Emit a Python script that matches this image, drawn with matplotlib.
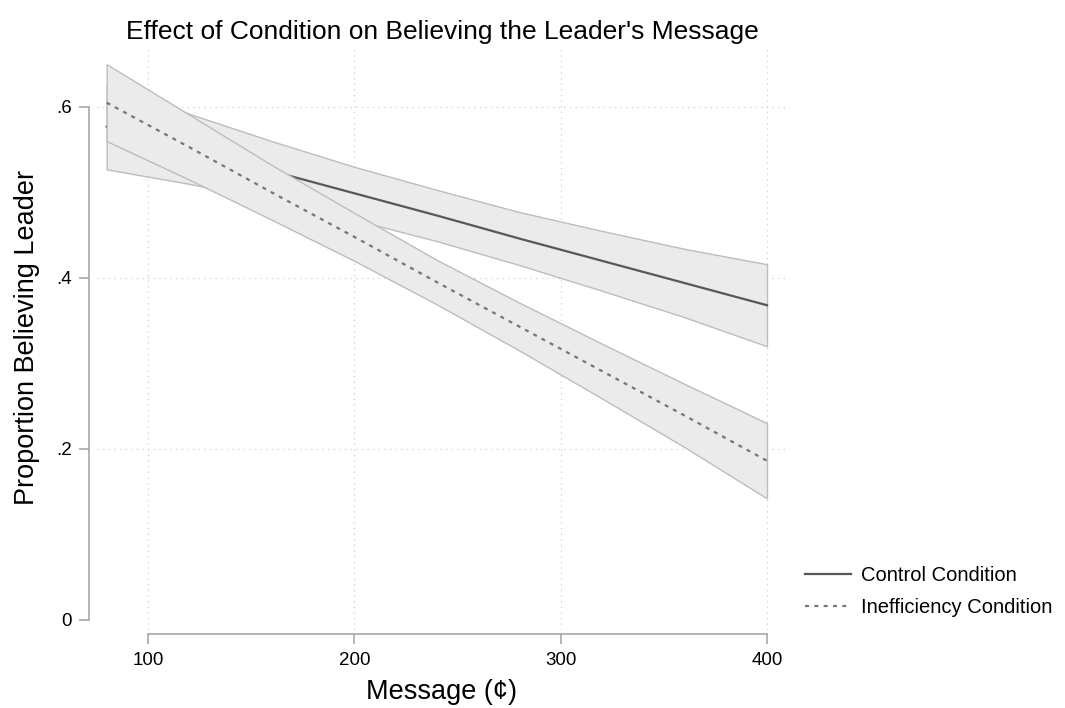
import numpy as np
import matplotlib
matplotlib.use("Agg")
from matplotlib import pyplot as plt

plt.rcParams['font.family'] = ['Liberation Sans', 'DejaVu Sans']

message = [80, 120, 160, 200, 240, 280, 320, 360, 400]
control_fit = [0.577, 0.551, 0.525, 0.499, 0.473, 0.446, 0.420, 0.394, 0.368]
control_lo = [0.527, 0.510, 0.490, 0.468, 0.443, 0.415, 0.385, 0.354, 0.320]
control_hi = [0.627, 0.592, 0.560, 0.530, 0.503, 0.477, 0.455, 0.434, 0.416]
ineff_fit = [0.605, 0.553, 0.500, 0.448, 0.395, 0.343, 0.291, 0.239, 0.186]
ineff_lo = [0.560, 0.515, 0.468, 0.420, 0.369, 0.315, 0.259, 0.202, 0.142]
ineff_hi = [0.650, 0.591, 0.532, 0.476, 0.421, 0.371, 0.323, 0.276, 0.230]

xticks = [100, 200, 300, 400]
yticks = [0, 0.2, 0.4, 0.6]
yticklabels = ['0', '.2', '.4', '.6']

fig = plt.figure(figsize=(10.65, 7.08), dpi=100)
W, H = 1065, 708
left, right, top, bottom = 97, 787, 45, 630
ax = fig.add_axes([left / W, 1 - bottom / H, (right - left) / W, (bottom - top) / H])

band = dict(facecolor='#ebebeb', edgecolor='#bdbdbd', linewidth=1.0)
ax.fill_between(message, control_lo, control_hi, zorder=2, **band)
ax.plot(message, control_fit, color='#585858', lw=1.6, zorder=3, label='Control Condition')
ax.fill_between(message, ineff_lo, ineff_hi, zorder=4, **band)
ax.plot(message, ineff_fit, color='#777777', lw=1.6, ls=(0, (1.8, 2.4)), zorder=5,
        label='Inefficiency Condition')

ax.set_xlim(75.3, 409.7)
ax.set_ylim(-0.012, 0.6725)
ax.set_xticks(xticks)
ax.set_yticks(yticks)
ax.set_yticklabels(yticklabels)

for x in xticks:
    ax.axvline(x, color='#cfcfcf', lw=0.9, ls=(0, (1, 3.5)), zorder=1)
for y in yticks[1:]:
    ax.axhline(y, color='#cfcfcf', lw=0.9, ls=(0, (1, 3.5)), zorder=1)

for s in ['top', 'right']:
    ax.spines[s].set_visible(False)
ax.spines['left'].set_position(('outward', 6))
ax.spines['left'].set_bounds(0, 0.6)
ax.spines['bottom'].set_position(('outward', 3))
ax.spines['bottom'].set_bounds(100, 400)
for s in ['left', 'bottom']:
    ax.spines[s].set_color('#a0a0a0')
    ax.spines[s].set_linewidth(1.1)
ax.tick_params(colors='#a0a0a0', labelcolor='black', labelsize=13.5, length=7, width=1.1)
ax.tick_params(axis='x', pad=6)
ax.tick_params(axis='y', pad=5)

ax.set_title("Effect of Condition on Believing the Leader's Message", fontsize=19, pad=4)
ax.set_xlabel('Message (¢)', fontsize=19.5, labelpad=7)
ax.set_ylabel('Proportion Believing Leader', fontsize=19.5, labelpad=12)

leg = ax.legend(loc='center left', bbox_to_anchor=(1.0, 0.066), frameon=False,
                fontsize=14.5, handlelength=2.3, handletextpad=0.45, labelspacing=0.65)

fig.savefig('out.png', dpi=100)
